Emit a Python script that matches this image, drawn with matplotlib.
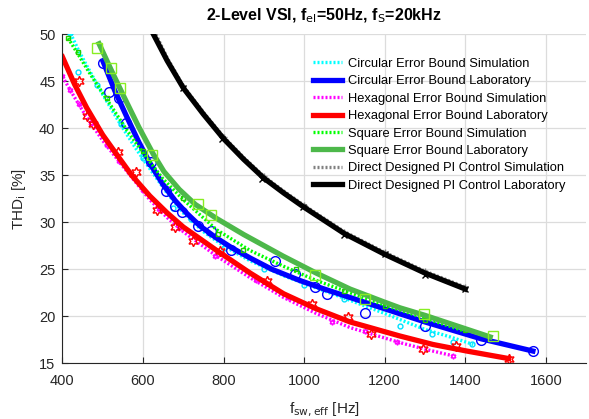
import numpy as np
import matplotlib.pyplot as plt

plt.rcParams['font.family'] = ['Liberation Sans', 'DejaVu Sans']

# fitted curves (x in Hz, THD in %)
circ_sim_x = [420, 440, 460, 500, 543, 580, 617, 660, 700, 750, 800, 866, 950, 1031, 1114, 1200, 1300, 1363, 1420]
circ_sim_y = [50.1, 48.3, 46.7, 43.6, 40.5, 38.0, 35.7, 33.1, 31.0, 29.0, 27.5, 25.9, 24.3, 23.0, 21.7, 20.3, 18.6, 17.8, 17.0]
circ_lab_x = [501, 530, 560, 590, 621, 650, 680, 710, 742, 780, 820, 866, 920, 990, 1050, 1114, 1200, 1300, 1440, 1568]
circ_lab_y = [47.1, 44.0, 41.2, 38.5, 36.0, 34.0, 32.3, 30.9, 29.6, 28.4, 27.3, 26.2, 25.0, 23.8, 22.9, 22.0, 20.8, 19.4, 17.6, 16.3]
hex_sim_x = [400, 430, 460, 500, 540, 568, 617, 660, 700, 783, 866, 949, 1030, 1114, 1238, 1300, 1369]
hex_sim_y = [45.5, 43.3, 41.2, 38.7, 36.5, 35.0, 32.4, 30.5, 29.0, 26.4, 24.1, 22.0, 20.3, 18.8, 17.2, 16.5, 15.8]
hex_lab_x = [400, 430, 460, 500, 540, 572, 617, 660, 700, 783, 866, 949, 1030, 1114, 1238, 1320, 1404, 1508]
hex_lab_y = [47.6, 44.7, 42.2, 39.3, 36.9, 35.0, 32.8, 31.0, 29.5, 27.0, 24.6, 22.4, 20.8, 19.4, 17.9, 17.0, 16.3, 15.5]
sq_sim_x = [414, 440, 470, 510, 560, 600, 650, 700, 783, 866, 950, 1031, 1114, 1200, 1300, 1400]
sq_sim_y = [49.6, 47.8, 45.7, 43.1, 39.8, 37.4, 34.6, 32.4, 29.2, 27.0, 25.3, 23.8, 22.5, 21.2, 19.8, 18.4]
sq_lab_x = [491, 520, 550, 590, 625, 652, 690, 730, 783, 850, 948, 1030, 1114, 1200, 1238, 1300, 1462]
sq_lab_y = [49.0, 46.3, 43.6, 40.1, 37.3, 35.4, 33.5, 31.9, 30.4, 28.7, 26.4, 24.6, 22.9, 21.5, 20.9, 20.1, 17.8]
pi_sim_x = [632, 660, 700, 750, 800, 850, 900, 950, 1000, 1100, 1200, 1300, 1400]
pi_sim_y = [50.0, 47.5, 44.5, 41.7, 39.1, 36.9, 34.9, 33.3, 31.8, 29.0, 26.8, 24.8, 23.1]
pi_lab_x = [626, 660, 700, 750, 800, 850, 900, 950, 1000, 1100, 1200, 1300, 1400]
pi_lab_y = [50.0, 47.2, 44.3, 41.5, 38.9, 36.7, 34.7, 33.1, 31.6, 28.8, 26.6, 24.6, 22.9]

# measured points
circ_sim_mx = [420, 439, 485, 545, 600, 674, 720, 800, 900, 1000, 1100, 1238, 1317, 1369, 1417]
circ_sim_my = [50.1, 46.0, 44.6, 40.5, 36.8, 31.5, 30.3, 27.3, 25.0, 23.3, 21.8, 19.0, 18.1, 17.3, 17.0]
circ_lab_mx = [500, 516, 541, 559, 620, 657, 680, 696, 737, 768, 819, 928, 978, 1027, 1058, 1150, 1300, 1439, 1568]
circ_lab_my = [47.0, 43.9, 43.2, 40.6, 36.4, 33.3, 31.7, 31.1, 29.6, 29.1, 27.1, 25.9, 24.5, 23.1, 22.4, 20.4, 19.0, 17.5, 16.3]
hex_sim_mx = [400, 420, 440, 470, 510, 540, 600, 640, 690, 780, 880, 960, 1069, 1150, 1230, 1369]
hex_sim_my = [45.6, 44.1, 42.6, 40.6, 38.2, 36.5, 33.4, 31.4, 29.4, 26.4, 23.9, 22.1, 19.4, 18.4, 17.3, 15.8]
hex_lab_mx = [441, 460, 476, 537, 582, 634, 680, 725, 791, 907, 1019, 1109, 1166, 1296, 1378, 1508]
hex_lab_my = [45.0, 41.3, 40.5, 37.5, 35.4, 31.3, 29.5, 28.0, 26.9, 23.8, 21.3, 19.9, 18.1, 16.5, 16.8, 15.5]
sq_sim_mx = [414, 438, 510, 600, 700, 787, 849, 979, 1100, 1200, 1300, 1400]
sq_sim_my = [49.6, 48.1, 43.2, 37.6, 32.6, 28.8, 27.1, 25.0, 22.7, 21.1, 19.6, 18.5]
sq_lab_mx = [486, 520, 543, 622, 737, 768, 1027, 1150, 1298, 1469]
sq_lab_my = [48.5, 46.4, 44.3, 37.2, 32.0, 30.8, 24.4, 21.8, 20.2, 17.9]
pi_sim_mx = [700, 800, 900, 1000, 1100, 1200, 1300, 1400]
pi_sim_my = [44.5, 39.1, 34.9, 31.8, 29.0, 26.8, 24.8, 23.1]
pi_lab_mx = [700, 795, 895, 998, 1098, 1200, 1300, 1400]
pi_lab_my = [44.3, 38.9, 34.6, 31.6, 28.6, 26.6, 24.4, 22.9]

labels = ['Circular Error Bound Simulation', 'Circular Error Bound Laboratory',
          'Hexagonal Error Bound Simulation', 'Hexagonal Error Bound Laboratory',
          'Square Error Bound Simulation', 'Square Error Bound Laboratory',
          'Direct Designed PI Control Simulation', 'Direct Designed PI Control Laboratory']

fig = plt.figure(figsize=(5.89, 4.19), dpi=100)
ax = fig.add_axes([0.106, 0.133, 0.889, 0.785])

sim_ls = (0, (0.6, 0.6))
hexstar = (6, 1, 0)

# simulation and lab pairs
ax.plot(circ_sim_x, circ_sim_y, color='#00FFFF', lw=2.4, ls=sim_ls, label=labels[0])
ax.plot(circ_sim_mx, circ_sim_my, ls='none', marker='o', ms=3.5, mfc='none', mec='#00E0FF', mew=1)
ax.plot(circ_lab_x, circ_lab_y, color='#0000FF', lw=3.8, label=labels[1])
ax.plot(circ_lab_mx, circ_lab_my, ls='none', marker='o', ms=7, mfc='none', mec='#0000FF', mew=1)

ax.plot(hex_sim_x, hex_sim_y, color='#FF00FF', lw=2.4, ls=sim_ls, label=labels[2])
ax.plot(hex_sim_mx, hex_sim_my, ls='none', marker=hexstar, ms=4, mfc='none', mec='#FF00FF', mew=1)
ax.plot(hex_lab_x, hex_lab_y, color='#FF0000', lw=3.8, label=labels[3])
ax.plot(hex_lab_mx, hex_lab_my, ls='none', marker=hexstar, ms=7.5, mfc='none', mec='#FF0000', mew=1)

ax.plot(sq_sim_x, sq_sim_y, color='#00FF00', lw=2.4, ls=sim_ls, label=labels[4])
ax.plot(sq_sim_mx, sq_sim_my, ls='none', marker='s', ms=3.5, mfc='none', mec='#22CC00', mew=1)
ax.plot(sq_lab_x, sq_lab_y, color='#4DB84A', lw=3.8, label=labels[5])
ax.plot(sq_lab_mx, sq_lab_my, ls='none', marker='s', ms=6.5, mfc='none', mec='#88EE22', mew=1)

ax.plot(pi_sim_x, pi_sim_y, color='#808080', lw=2.4, ls=sim_ls, label=labels[6])
ax.plot(pi_sim_mx, pi_sim_my, ls='none', marker='+', ms=4, mec='#808080', mew=1)
ax.plot(pi_lab_x, pi_lab_y, color='#000000', lw=3.8, label=labels[7])
ax.plot(pi_lab_mx, pi_lab_my, ls='none', marker='x', ms=5, mec='#000000', mew=1)

ax.set_xlim(400, 1700)
ax.set_ylim(15, 50)
ax.set_xticks(np.arange(400, 1700, 200))
ax.set_yticks(np.arange(15, 51, 5))
ax.grid(True, color='#DCDCDC', lw=0.9)
ax.set_axisbelow(True)
for s in ['top', 'right']:
    ax.spines[s].set_visible(False)
for s in ['left', 'bottom']:
    ax.spines[s].set_color('#262626')
ax.tick_params(direction='in', length=4, labelsize=10.5, labelcolor='#262626', color='#262626')
ax.tick_params(axis='x', pad=8)
ax.tick_params(axis='y', pad=5)

ax.set_title('2-Level VSI, f$_{\\rm el}$=50Hz, f$_{\\rm S}$=20kHz', fontsize=11.5, fontweight='bold', pad=10)
ax.set_xlabel('f$_{\\rm sw,eff}$ [Hz]', fontsize=11, color='#262626', labelpad=9)
ax.set_ylabel('THD$_{\\rm i}$ [%]', fontsize=11, color='#262626', labelpad=8)

leg = ax.legend(loc='upper left', bbox_to_anchor=(0.468, 0.945), frameon=False,
                fontsize=9.3, handlelength=2.3, handletextpad=0.4, labelspacing=0.42,
                borderaxespad=0)

fig.savefig('out.png', dpi=100)
